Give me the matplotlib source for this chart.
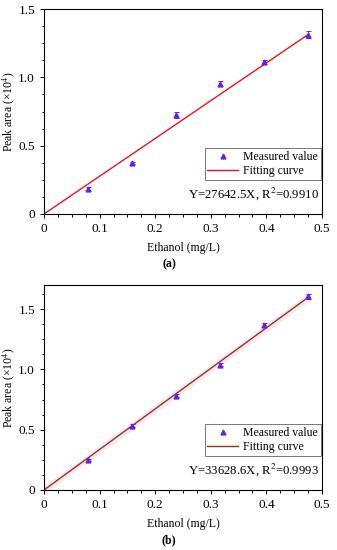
import matplotlib
matplotlib.use("Agg")
import matplotlib.pyplot as plt
from matplotlib.ticker import MultipleLocator, FixedLocator
from matplotlib.lines import Line2D
import numpy as np

plt.rcParams['font.family'] = ['Liberation Serif', 'DejaVu Serif']
plt.rcParams['mathtext.fontset'] = 'stix'

x = [0.079, 0.158, 0.237, 0.316, 0.395, 0.474]
ya = [0.186, 0.373, 0.727, 0.954, 1.112, 1.312]
ea = [0.015, 0.010, 0.022, 0.018, 0.015, 0.025]
yb = [0.249, 0.534, 0.783, 1.038, 1.370, 1.605]
eb = [0.012, 0.015, 0.012, 0.012, 0.015, 0.018]
slope_a = 2.764250
slope_b = 3.362860
eq_a = "Y=27642.5X, R$^2$=0.9910"
eq_b = "Y=33628.6X, R$^2$=0.9993"

xticks = [0, 0.1, 0.2, 0.3, 0.4, 0.5]
xticklabels = ["0", "0.1", "0.2", "0.3", "0.4", "0.5"]
yticks = [0, 0.5, 1.0, 1.5]
yticklabels = ["0", "0.5", "1.0", "1.5"]

fig = plt.figure(figsize=(3.37, 5.5), dpi=100)
W, H = 337, 550

def make_ax(top, bottom):
    return fig.add_axes([44 / W, (H - bottom) / H, 278 / W, (bottom - top) / H])

axa = make_ax(9, 214)
axb = make_ax(285, 490)

fs = 8.5
tfs = 9.5
pt_color = '#6a22d8'

def draw(ax, y, e, slope, ymax, line_color, eq, label, band):
    xl = np.array([0, x[-1]])
    if band:
        xx = np.linspace(0, x[-1], 50)
        ax.fill_between(xx, slope * xx - 0.035, slope * xx + 0.035, color='#fde6f6', lw=0, zorder=1)
    ax.plot(xl, slope * xl, color=line_color, lw=1.0, zorder=2)
    ax.errorbar(x, y, yerr=e, fmt='^', color=pt_color, ms=3.5, mec=pt_color,
                ecolor=pt_color, elinewidth=0.7, capsize=1.8, capthick=0.7, zorder=3)
    ax.set_xlim(0, 0.5)
    ax.set_ylim(0, ymax)
    ax.xaxis.set_major_locator(FixedLocator(xticks))
    ax.set_xticklabels(xticklabels)
    ax.yaxis.set_major_locator(FixedLocator(yticks))
    ax.set_yticklabels(yticklabels)
    ax.xaxis.set_minor_locator(MultipleLocator(0.025))
    ax.yaxis.set_minor_locator(MultipleLocator(0.125))
    ax.tick_params(which='both', direction='out', top=False, right=False, labelsize=tfs, width=0.7)
    ax.tick_params(which='major', length=3)
    ax.tick_params(which='minor', length=1.8)
    for s in ax.spines.values():
        s.set_linewidth(0.8)
    ax.set_xlabel('Ethanol (mg/L)', fontsize=fs, labelpad=5)
    ax.set_ylabel('Peak area (×10$^4$)', fontsize=fs, labelpad=1)
    handles = [Line2D([], [], ls='none', marker='^', ms=3.5, color=pt_color),
               Line2D([], [], color=line_color, lw=1.0)]
    leg = ax.legend(handles, ['Measured value', 'Fitting curve'], loc='lower right',
                    bbox_to_anchor=(0.995, 0.165), fontsize=fs, frameon=True, fancybox=False,
                    edgecolor='#555555', handlelength=2.6, handletextpad=0.4,
                    borderpad=0.25, labelspacing=0.2, borderaxespad=0.0)
    leg.get_frame().set_linewidth(0.7)
    ax.text(0.99, 0.1, eq, transform=ax.transAxes, ha='right', va='center', fontsize=9.2)
    ax.text(0.45, -0.245, label, transform=ax.transAxes, ha='center', va='center',
            fontsize=fs, fontweight='bold')

draw(axa, ya, ea, slope_a, 1.5, '#e8141c', eq_a, '(a)', False)
draw(axb, yb, eb, slope_b, 1.7, '#8b3a14', eq_b, '(b)', True)

fig.savefig('out.png', dpi=100)
